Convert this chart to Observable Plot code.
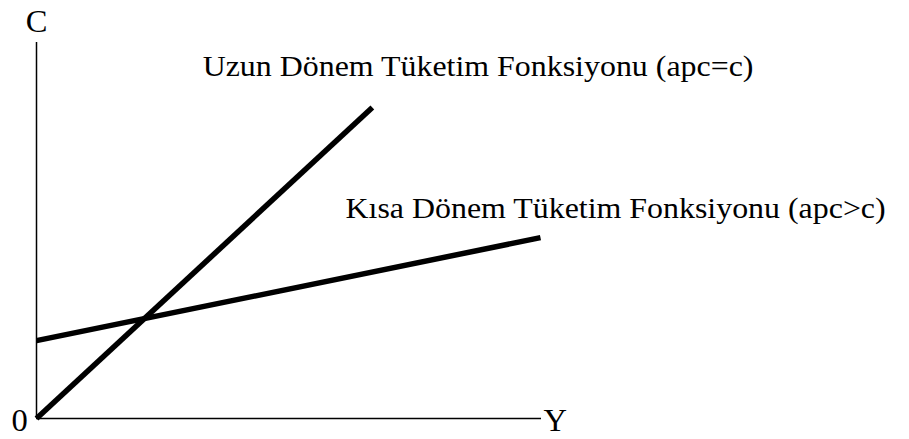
<!DOCTYPE html>
<html>
<head>
<meta charset="utf-8">
<script src="https://cdn.jsdelivr.net/npm/d3@7"></script>
<script src="https://cdn.jsdelivr.net/npm/@observablehq/plot@0.6"></script>
<style>
  html, body { margin: 0; padding: 0; background: #fff; }
  #chart svg { display: block; }
</style>
</head>
<body>
<div id="chart"></div>
<script>
// Consumption functions (abstract units)
const longRunX = [0, 6.65];
const longRunY = [0, 8.27];
const shortRunX = [0, 9.98];
const shortRunY = [2.07, 4.81];

// axis extents
const axisXMax = 10;
const axisYMax = 10;

// labels
const labelTexts = ["Uzun Dönem Tüketim Fonksiyonu (apc=c)", "Kısa Dönem Tüketim Fonksiyonu (apc>c)"];
const labelX = [3.29, 6.12];
const labelY = [9.10, 5.32];
const axisLabels = ["C", "Y", "0"];
const axisLabelX = [0, 10.04, -0.17];
const axisLabelY = [10.29, -0.34, -0.34];

const longRun = longRunX.map((x, i) => ({x, y: longRunY[i]}));
const shortRun = shortRunX.map((x, i) => ({x, y: shortRunY[i]}));
const labels = labelTexts.map((t, i) => ({t, x: labelX[i], y: labelY[i]}));
const axLabs = axisLabels.map((t, i) => ({t, x: axisLabelX[i], y: axisLabelY[i], anchor: t === "0" ? "end" : t === "C" ? "middle" : "start"}));

const font = "'Liberation Serif', 'Times New Roman', serif";

const chart = Plot.plot({
  width: 909,
  height: 439,
  marginLeft: 36,
  marginRight: 368,
  marginTop: 42,
  marginBottom: 21,
  style: {fontFamily: font, background: "#fff"},
  x: {domain: [0, axisXMax], axis: null},
  y: {domain: [0, axisYMax], axis: null},
  marks: [
    Plot.ruleY([0], {x1: 0, x2: axisXMax, stroke: "#000", strokeWidth: 1.5}),
    Plot.ruleX([0], {y1: 0, y2: axisYMax, stroke: "#000", strokeWidth: 1.5}),
    Plot.line(longRun, {x: "x", y: "y", stroke: "#000", strokeWidth: 5.5, strokeLinecap: "butt"}),
    Plot.line(shortRun, {x: "x", y: "y", stroke: "#000", strokeWidth: 5.5, strokeLinecap: "butt"}),
    Plot.text(labels, {x: "x", y: "y", text: "t", textAnchor: "start", lineAnchor: "bottom", fontSize: 29, fill: "#000", fontFamily: font, className: "lbl"}),
    Plot.text(axLabs.filter(d => d.anchor === "middle"), {x: "x", y: "y", text: "t", textAnchor: "middle", lineAnchor: "bottom", fontSize: 31, fill: "#000", fontFamily: font, className: "axl"}),
    Plot.text(axLabs.filter(d => d.anchor === "start"), {x: "x", y: "y", text: "t", textAnchor: "start", lineAnchor: "bottom", fontSize: 31, fill: "#000", fontFamily: font, className: "axl"}),
    Plot.text(axLabs.filter(d => d.anchor === "end"), {x: "x", y: "y", text: "t", textAnchor: "end", lineAnchor: "bottom", fontSize: 31, fill: "#000", fontFamily: font, className: "axl"})
  ]
});
document.getElementById("chart").appendChild(chart);

// The reference typeface is set slightly wide: stretch the glyphs horizontally
function stretch(sel, k) {
  sel.each(function () {
    const len = this.getComputedTextLength();
    if (len > 0) {
      d3.select(this).attr("textLength", (len * k).toFixed(1)).attr("lengthAdjust", "spacingAndGlyphs");
    }
  });
}
stretch(d3.select(chart).selectAll(".lbl text"), 1.1);
stretch(d3.select(chart).selectAll(".axl text"), 1.05);
</script>
</body>
</html>
